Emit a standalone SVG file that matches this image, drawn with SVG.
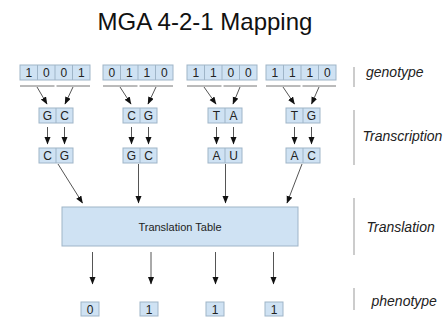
<svg xmlns="http://www.w3.org/2000/svg" width="447" height="320" viewBox="0 0 447 320">
<style>
.box{fill:#cfe2f3;stroke:#9fb5c8;stroke-width:1}
.cell{font-family:"Liberation Sans",Arial,sans-serif;font-size:12px;fill:#222;text-anchor:middle}
.conn{stroke:#555;stroke-width:1;fill:none}
.arr{stroke:#555;stroke-width:1;fill:none;marker-end:url(#ah)}
.ul{stroke:#777;stroke-width:1}
.sep{stroke:#999;stroke-width:1}
.lbl{font-family:"Liberation Sans",Arial,sans-serif;font-size:14px;font-style:italic;fill:#222}
</style>
<defs>
<marker id="ah" markerUnits="userSpaceOnUse" markerWidth="8" markerHeight="7" refX="7" refY="3" orient="auto">
<path d="M0,0 L7.5,3 L0,6 Z" fill="#111"/>
</marker>
</defs>
<rect width="447" height="320" fill="#fff"/>
<text x="205" y="30" font-family="'Liberation Sans',Arial,sans-serif" font-size="24" text-anchor="middle" fill="#111">MGA 4-2-1 Mapping</text>

<g id="genotype1">
<rect class="box" x="20" y="65" width="70" height="15"/>
<path class="box" d="M37.5,65v15M55,65v15M72.5,65v15"/>
<text class="cell" x="28.75" y="77">1</text><text class="cell" x="46.25" y="77">0</text><text class="cell" x="63.75" y="77">0</text><text class="cell" x="81.25" y="77">1</text>
</g>
<g id="genotype2">
<rect class="box" x="103" y="65" width="70" height="15"/>
<path class="box" d="M120.5,65v15M138,65v15M155.5,65v15"/>
<text class="cell" x="111.75" y="77">0</text><text class="cell" x="129.25" y="77">1</text><text class="cell" x="146.75" y="77">1</text><text class="cell" x="164.25" y="77">0</text>
</g>
<g id="genotype3">
<rect class="box" x="187" y="65" width="70" height="15"/>
<path class="box" d="M204.5,65v15M222,65v15M239.5,65v15"/>
<text class="cell" x="195.75" y="77">1</text><text class="cell" x="213.25" y="77">1</text><text class="cell" x="230.75" y="77">0</text><text class="cell" x="248.25" y="77">0</text>
</g>
<g id="genotype4">
<rect class="box" x="266" y="65" width="70" height="15"/>
<path class="box" d="M283.5,65v15M301,65v15M318.5,65v15"/>
<text class="cell" x="274.75" y="77">1</text><text class="cell" x="292.25" y="77">1</text><text class="cell" x="309.75" y="77">1</text><text class="cell" x="327.25" y="77">0</text>
</g>

<g id="underlines">
<path class="ul" d="M20,86h34.5M56.5,86h33.5M103,86h34.5M139.5,86h33.5M187,86h34.5M223.5,86h33.5M266,86h34.5M302.5,86h33.5"/>
</g>

<g id="trans1">
<rect class="box" x="39" y="108" width="34" height="15"/><path class="box" d="M56,108v15"/>
<text class="cell" x="47.5" y="120">G</text><text class="cell" x="64.5" y="120">C</text>
</g>
<g id="trans2">
<rect class="box" x="123" y="108" width="34" height="15"/><path class="box" d="M140,108v15"/>
<text class="cell" x="131.5" y="120">C</text><text class="cell" x="148.5" y="120">G</text>
</g>
<g id="trans3">
<rect class="box" x="208" y="108" width="34" height="15"/><path class="box" d="M225,108v15"/>
<text class="cell" x="216.5" y="120">T</text><text class="cell" x="233.5" y="120">A</text>
</g>
<g id="trans4">
<rect class="box" x="286" y="108" width="34" height="15"/><path class="box" d="M303,108v15"/>
<text class="cell" x="294.5" y="120">T</text><text class="cell" x="311.5" y="120">G</text>
</g>

<g id="comp1">
<rect class="box" x="39" y="148" width="34" height="15"/><path class="box" d="M56,148v15"/>
<text class="cell" x="47.5" y="160">C</text><text class="cell" x="64.5" y="160">G</text>
</g>
<g id="comp2">
<rect class="box" x="123" y="148" width="34" height="15"/><path class="box" d="M140,148v15"/>
<text class="cell" x="131.5" y="160">G</text><text class="cell" x="148.5" y="160">C</text>
</g>
<g id="comp3">
<rect class="box" x="208" y="148" width="34" height="15"/><path class="box" d="M225,148v15"/>
<text class="cell" x="216.5" y="160">A</text><text class="cell" x="233.5" y="160">U</text>
</g>
<g id="comp4">
<rect class="box" x="286" y="148" width="34" height="15"/><path class="box" d="M303,148v15"/>
<text class="cell" x="294.5" y="160">A</text><text class="cell" x="311.5" y="160">C</text>
</g>

<g id="table">
<rect class="box" x="62" y="207" width="236" height="39"/>
<text x="180" y="231" font-family="'Liberation Sans',Arial,sans-serif" font-size="11" text-anchor="middle" fill="#222">Translation Table</text>
</g>

<g id="pheno1"><rect class="box" x="81" y="302" width="18" height="14"/><text class="cell" x="90" y="313.5">0</text></g>
<g id="pheno2"><rect class="box" x="140" y="302" width="18" height="14"/><text class="cell" x="149" y="313.5">1</text></g>
<g id="pheno3"><rect class="box" x="206" y="302" width="18" height="14"/><text class="cell" x="215" y="313.5">1</text></g>
<g id="pheno4"><rect class="box" x="265" y="302" width="18" height="14"/><text class="cell" x="274" y="313.5">1</text></g>

<g id="connectors">
<line class="arr" x1="37" y1="87" x2="47" y2="104"/>
<line class="arr" x1="73" y1="87" x2="65" y2="104"/>
<line class="arr" x1="120" y1="87" x2="131" y2="104"/>
<line class="arr" x1="156" y1="87" x2="148" y2="104"/>
<line class="arr" x1="204" y1="87" x2="216" y2="104"/>
<line class="arr" x1="240" y1="87" x2="233" y2="104"/>
<line class="arr" x1="283" y1="87" x2="294.5" y2="104"/>
<line class="arr" x1="319" y1="87" x2="311.5" y2="104"/>

<line class="arr" x1="47.5" y1="127" x2="47.5" y2="144"/>
<line class="arr" x1="64.5" y1="127" x2="64.5" y2="144"/>
<line class="arr" x1="131.5" y1="127" x2="131.5" y2="144"/>
<line class="arr" x1="148.5" y1="127" x2="148.5" y2="144"/>
<line class="arr" x1="216.5" y1="127" x2="216.5" y2="144"/>
<line class="arr" x1="233.5" y1="127" x2="233.5" y2="144"/>
<line class="arr" x1="294.5" y1="127" x2="294.5" y2="144"/>
<line class="arr" x1="311.5" y1="127" x2="311.5" y2="144"/>

<line class="arr" x1="58" y1="164" x2="82.5" y2="203"/>
<line class="arr" x1="138.5" y1="164" x2="138.5" y2="203"/>
<line class="arr" x1="225.5" y1="164" x2="225.5" y2="203"/>
<line class="arr" x1="302" y1="164" x2="287" y2="203"/>

<line class="arr" x1="92.5" y1="252" x2="92.5" y2="284"/>
<line class="arr" x1="151" y1="252" x2="151" y2="284"/>
<line class="arr" x1="215.5" y1="252" x2="215.5" y2="284"/>
<line class="arr" x1="273.5" y1="252" x2="273.5" y2="284"/>
</g>

<g id="labels">
<line class="sep" x1="354" y1="67" x2="354" y2="87"/>
<line class="sep" x1="354" y1="110" x2="354" y2="165"/>
<line class="sep" x1="354" y1="198" x2="354" y2="255"/>
<line class="sep" x1="354" y1="288" x2="354" y2="310"/>
<text class="lbl" x="366" y="77">genotype</text>
<text class="lbl" x="362.5" y="141">Transcription</text>
<text class="lbl" x="366.5" y="232">Translation</text>
<text class="lbl" x="371.5" y="306">phenotype</text>
</g>
</svg>
